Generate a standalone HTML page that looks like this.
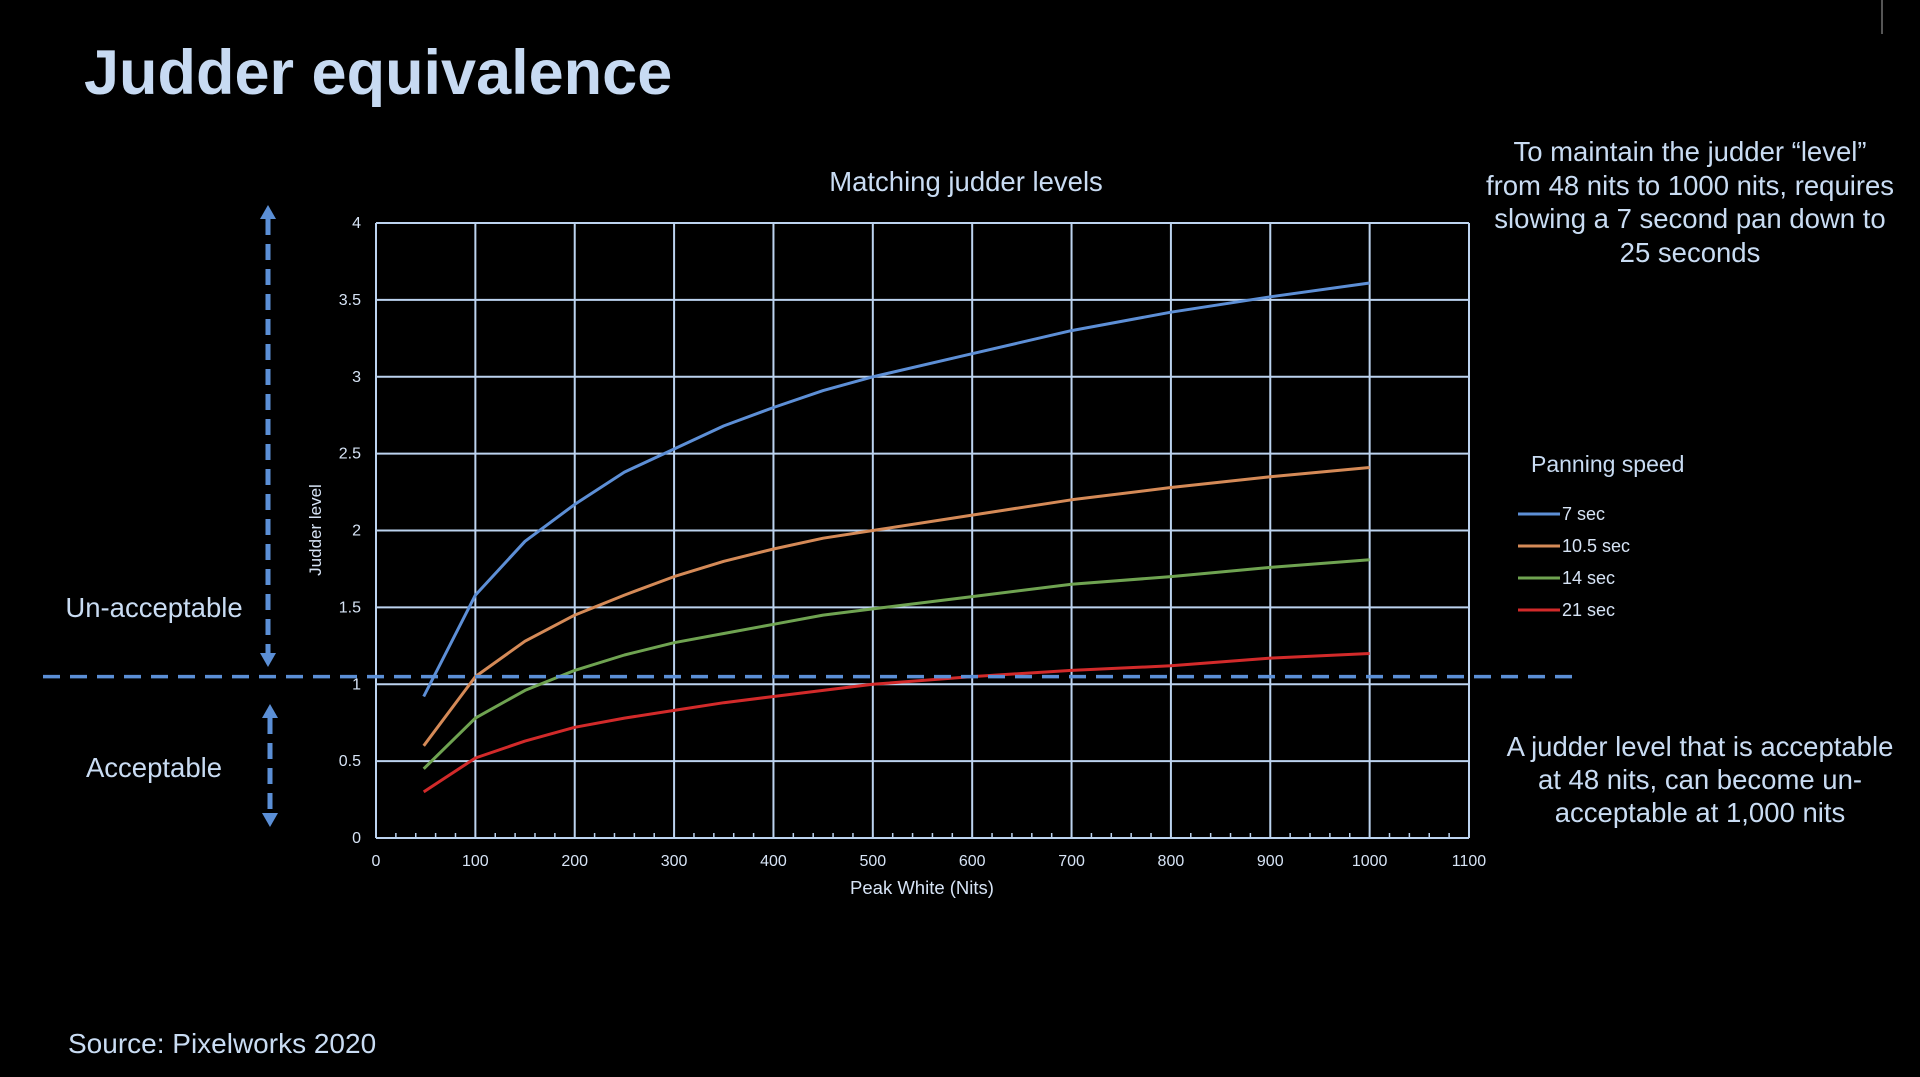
<!DOCTYPE html>
<html><head><meta charset="utf-8"><style>
html,body{margin:0;padding:0;background:#000;}
body{width:1920px;height:1077px;overflow:hidden;position:relative;font-family:"Liberation Sans",sans-serif;color:#c9dcf3;}
.t{position:absolute;white-space:nowrap;}
</style></head><body>
<div class="t" style="left:84px;top:37px;font-size:63px;font-weight:bold;color:#c7daf2;">Judder equivalence</div>
<div class="t" style="left:966px;top:166px;transform:translateX(-50%);font-size:27.5px;">Matching judder levels</div>
<div class="t" style="left:1690px;top:135px;transform:translateX(-50%);font-size:27.5px;line-height:33.5px;text-align:center;">To maintain the judder “level”<br>from 48 nits to 1000 nits, requires<br>slowing a 7 second pan down to<br>25 seconds</div>
<div class="t" style="left:1700px;top:730px;transform:translateX(-50%);font-size:27.5px;line-height:33px;text-align:center;">A judder level that is acceptable<br>at 48 nits, can become un-<br>acceptable at 1,000 nits</div>
<div class="t" style="left:154px;top:592px;transform:translateX(-50%);font-size:27.5px;">Un-acceptable</div>
<div class="t" style="left:154px;top:752px;transform:translateX(-50%);font-size:27.5px;">Acceptable</div>
<div class="t" style="left:68px;top:1028px;font-size:28px;">Source: Pixelworks 2020</div>
<svg id="chart" width="1920" height="1077" style="position:absolute;left:0;top:0;">
<line x1="1882" y1="0" x2="1882" y2="34" stroke="#555" stroke-width="2"/>
</svg>
<script>
const xTicks=[0,100,200,300,400,500,600,700,800,900,1000,1100];
const yTicks=[0,0.5,1,1.5,2,2.5,3,3.5,4];
const yTickLabels=["0","0.5","1","1.5","2","2.5","3","3.5","4"];
const nits=[48,100,150,200,250,300,350,400,450,500,600,700,800,900,1000];
const s7=[0.92,1.58,1.93,2.17,2.38,2.53,2.68,2.80,2.91,3.00,3.15,3.30,3.42,3.52,3.61];
const s105=[0.60,1.05,1.28,1.45,1.58,1.70,1.80,1.88,1.95,2.00,2.10,2.20,2.28,2.35,2.41];
const s14=[0.45,0.78,0.96,1.09,1.19,1.27,1.33,1.39,1.45,1.49,1.57,1.65,1.70,1.76,1.81];
const s21=[0.30,0.52,0.63,0.72,0.78,0.83,0.88,0.92,0.96,1.00,1.05,1.09,1.12,1.17,1.20];
const seriesNames=["7 sec","10.5 sec","14 sec","21 sec"];
const seriesColors=["#5d8fd6","#d58a57","#6fa351","#d22a2a"];
const thresholdValue=1.05;

const svg=document.getElementById('chart');
const NS='http://www.w3.org/2000/svg';
const X0=376,X1=1469,Y0=838,Y1=223;
const xs=v=>X0+(v/1100)*(X1-X0);
const ys=v=>Y0-(v/4)*(Y0-Y1);
function mk(tag,attrs){const e=document.createElementNS(NS,tag);for(const k in attrs)e.setAttribute(k,attrs[k]);svg.appendChild(e);return e;}
const grid='#bcd3ef';
yTicks.forEach((v,i)=>{
  const l=mk('line',{x1:X0,x2:X1,y1:ys(v),y2:ys(v),stroke:grid,'stroke-width':2});
  
  
  const t=mk('text',{x:X0-15,y:ys(v)+5,'text-anchor':'end','font-size':16,fill:'#d6e3f5','font-family':'Liberation Sans, sans-serif'});
  t.textContent=yTickLabels[i];
  
  
});
xTicks.forEach(v=>{
  const l=mk('line',{x1:xs(v),x2:xs(v),y1:Y1,y2:Y0,stroke:grid,'stroke-width':2});
  
  
  const t=mk('text',{x:xs(v),y:866,'text-anchor':'middle','font-size':16,fill:'#d6e3f5','font-family':'Liberation Sans, sans-serif'});
  t.textContent=String(v);
  
  
});
for(let v=20;v<1100;v+=20){
  const l=mk('line',{x1:xs(v),x2:xs(v),y1:Y0-5,y2:Y0,stroke:grid,'stroke-width':1.5});
  
  
}
const xt=mk('text',{x:922,y:894,'text-anchor':'middle','font-size':18.5,fill:'#d6e3f5','font-family':'Liberation Sans, sans-serif'});
xt.textContent='Peak White (Nits)';


const yt=mk('text',{x:0,y:0,'text-anchor':'middle','font-size':17,fill:'#d6e3f5','font-family':'Liberation Sans, sans-serif',transform:'translate(321,530) rotate(-90)'});
yt.textContent='Judder level';



[s7,s105,s14,s21].forEach((arr,i)=>{
  const d=arr.map((v,j)=>(j?'L':'M')+xs(nits[j]).toFixed(1)+','+ys(v).toFixed(1)).join(' ');
  const p=mk('path',{d:d,fill:'none',stroke:seriesColors[i],'stroke-width':3,'stroke-linejoin':'round'});
  
  
});

const th=mk('line',{x1:43,x2:1580,y1:ys(thresholdValue),y2:ys(thresholdValue),stroke:'#5b8fd6','stroke-width':3.5,'stroke-dasharray':'17 10'});



function arrow(x,ya,yb,name){
  const l=mk('line',{x1:x,x2:x,y1:ya+14,y2:yb-14,stroke:'#5b8fd6','stroke-width':5,'stroke-dasharray':'16 9'});
  
  
  const a=mk('polygon',{points:`${x-8},${ya+14} ${x+8},${ya+14} ${x},${ya}`,fill:'#5b8fd6'});
  
  
  const b=mk('polygon',{points:`${x-8},${yb-14} ${x+8},${yb-14} ${x},${yb}`,fill:'#5b8fd6'});
  
  
}
arrow(268,205,667,'unacceptable-arrow');
arrow(270,704,827,'acceptable-arrow');

const lg=mk('text',{x:1531,y:472,'font-size':23,fill:'#c9dcf3','font-family':'Liberation Sans, sans-serif'});
lg.textContent='Panning speed';


seriesNames.forEach((n,i)=>{
  const y=514+i*32;
  const l=mk('line',{x1:1518,x2:1560,y1:y,y2:y,stroke:seriesColors[i],'stroke-width':3});
  
  
  const t=mk('text',{x:1562,y:y+6,'font-size':18,fill:'#d6e3f5','font-family':'Liberation Sans, sans-serif'});
  t.textContent=n;
  
  
});
</script>
</body></html>
